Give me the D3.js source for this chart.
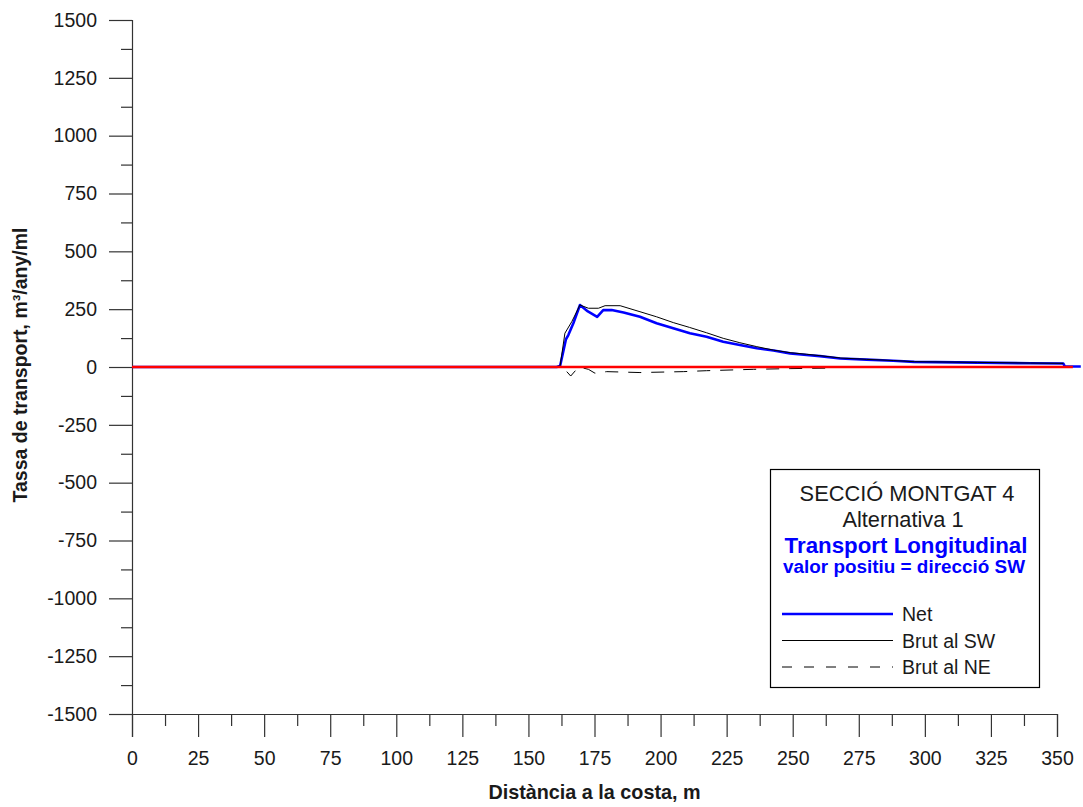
<!DOCTYPE html>
<html>
<head>
<meta charset="utf-8">
<script src="https://cdn.jsdelivr.net/npm/d3@7"></script>
<style>
  body { margin: 0; background: #fff; }
  svg text { font-family: "Liberation Sans", Arial, Helvetica, sans-serif; }
</style>
</head>
<body>
<svg id="chart" width="1083" height="807"></svg>
<script>
// Distance from the coast (m) and longitudinal transport rate (m³/any/ml)
const xTickValues = [0, 25, 50, 75, 100, 125, 150, 175, 200, 225, 250, 275, 300, 325, 350];
const yTickValues = [-1500, -1250, -1000, -750, -500, -250, 0, 250, 500, 750, 1000, 1250, 1500];

// Net transport
const netDistance = [0, 160.7, 162, 164.2, 165.1, 167, 169.5, 172.5, 176, 178.3, 181.5, 186, 192.2, 198.5, 204.8, 211.1, 217.4, 223.7, 230, 236.4, 242.7, 249, 255.3, 260.3, 268, 278, 288, 296, 320, 340, 352.4, 353, 359];
const netValue    = [0, 0, 5, 120, 138, 189, 268, 240, 217, 246, 246, 236, 217, 189, 167, 146, 131, 109, 95, 81, 71, 59, 52, 47, 37, 32, 27, 22, 19, 16, 15, 2, 2];

// Gross transport towards SW
const swDistance = [0, 160.7, 162, 163.8, 166.4, 169.5, 172.7, 176.5, 179, 184.7, 192.2, 198.5, 204.8, 211, 217.4, 223.7, 230, 236.4, 242.7, 249, 255.3, 260.3, 268, 278, 288, 296, 320, 340, 352.4];
const swValue    = [0, 0, 5, 146, 196, 268, 254, 254, 265, 265, 239, 217, 192, 171, 148, 124, 105, 88, 73, 62, 55, 49, 39, 33, 28, 23, 20, 17, 16];

// Gross transport towards NE
const neDistance = [164.5, 166, 169, 172.7, 175.2, 179.6, 192.2, 208.6, 217.4, 235.1, 249, 263];
const neValue    = [-20, -39, 0, -10, -27, -20, -24, -20, -16, -10, -7, -5];

// Zero reference line
const zeroDistance = [0, 356];
const zeroValue    = [0, 0];

const legendItems = [
  { label: "Net",        color: "#0000ff", width: 2.6, dash: null },
  { label: "Brut al SW", color: "#000000", width: 1,   dash: null },
  { label: "Brut al NE", color: "#000000", width: 1,   dash: "10,12" }
];

const svg = d3.select("#chart");
const axisColor = "#333";
const textColor = "#1a1a1a";
const fontStack = '"Liberation Sans", Arial, sans-serif';

const x = d3.scaleLinear().domain([0, 350]).range([132, 1057]);
const y = d3.scaleLinear().domain([-1500, 1500]).range([714, 20]);

const xMinor = d3.pairs(xTickValues).map(([a, b]) => (a + b) / 2);
const yMinor = d3.pairs(yTickValues).map(([a, b]) => (a + b) / 2);

const fmt = d => (d < 0 ? "-" + Math.abs(d) : String(d));

// Y axis: labelled major ticks, short minor ticks in between
const gY = svg.append("g").attr("transform", `translate(${x(0)},0)`);
gY.append("g").attr("class", "major")
  .call(d3.axisLeft(y).tickValues(yTickValues).tickSize(23).tickPadding(12).tickFormat(fmt));
gY.append("g").attr("class", "minor")
  .call(d3.axisLeft(y).tickValues(yMinor).tickSize(11).tickFormat(""))
  .select(".domain").remove();

// X axis
const gX = svg.append("g").attr("transform", `translate(0,${y(-1500)})`);
gX.append("g").attr("class", "major")
  .call(d3.axisBottom(x).tickValues(xTickValues).tickSize(23).tickPadding(14).tickFormat(d3.format("d")));
gX.append("g").attr("class", "minor")
  .call(d3.axisBottom(x).tickValues(xMinor).tickSize(12).tickFormat(""))
  .select(".domain").remove();

svg.selectAll(".domain").attr("stroke", axisColor).attr("stroke-width", 1.2);
svg.selectAll(".tick line").attr("stroke", axisColor).attr("stroke-width", 1.2);
svg.selectAll(".major .tick text")
  .attr("fill", textColor)
  .style("font-size", "19.5px")
  .style("font-family", fontStack);

// Axis titles
svg.append("text")
  .attr("transform", `translate(27,${y(0) - 2}) rotate(-90)`)
  .attr("text-anchor", "middle")
  .attr("fill", textColor)
  .style("font-size", "19.5px").style("font-weight", "bold")
  .text("Tassa de transport, m³/any/ml");

svg.append("text")
  .attr("x", (x(0) + x(350)) / 2)
  .attr("y", 799)
  .attr("text-anchor", "middle")
  .attr("fill", textColor)
  .style("font-size", "19.8px").style("font-weight", "bold")
  .text("Distància a la costa, m");

// Series
const lineGen = d3.line().x(d => x(d[0])).y(d => y(d[1]));

svg.append("path")
  .datum(d3.zip(netDistance, netValue))
  .attr("d", lineGen)
  .attr("fill", "none").attr("stroke", "#0000ff").attr("stroke-width", 2.6)
  .attr("stroke-linejoin", "round");

svg.append("path")
  .datum(d3.zip(swDistance, swValue))
  .attr("d", lineGen)
  .attr("fill", "none").attr("stroke", "#000").attr("stroke-width", 1);

svg.append("path")
  .datum(d3.zip(neDistance, neValue))
  .attr("d", lineGen)
  .attr("fill", "none").attr("stroke", "#000").attr("stroke-width", 1)
  .attr("stroke-dasharray", "13,10");

svg.append("path")
  .datum(d3.zip(zeroDistance, zeroValue))
  .attr("d", lineGen)
  .attr("fill", "none").attr("stroke", "#ff0000").attr("stroke-width", 2.7);

// Legend box
const lg = svg.append("g");
lg.append("rect")
  .attr("x", 770.5).attr("y", 469.5).attr("width", 269).attr("height", 218)
  .attr("fill", "#fff").attr("stroke", "#000").attr("stroke-width", 1.2);

const cx = 907;
lg.append("text").attr("x", cx).attr("y", 501).attr("text-anchor", "middle")
  .attr("fill", textColor).style("font-size", "21.8px").text("SECCIÓ MONTGAT 4");
lg.append("text").attr("x", cx - 4).attr("y", 527).attr("text-anchor", "middle")
  .attr("fill", textColor).style("font-size", "21.8px").text("Alternativa 1");
lg.append("text").attr("x", cx - 1).attr("y", 553).attr("text-anchor", "middle")
  .attr("fill", "#0000ff").style("font-size", "22.3px").style("font-weight", "bold")
  .text("Transport Longitudinal");
lg.append("text").attr("x", cx - 3).attr("y", 573).attr("text-anchor", "middle")
  .attr("fill", "#0000ff").style("font-size", "18.9px").style("font-weight", "bold")
  .text("valor positiu = direcció SW");

const rowY = d3.scalePoint().domain(legendItems.map(d => d.label)).range([614, 667]);
legendItems.forEach(item => {
  const yy = rowY(item.label);
  lg.append("line")
    .attr("x1", 782).attr("x2", 893).attr("y1", yy).attr("y2", yy)
    .attr("stroke", item.color).attr("stroke-width", item.width)
    .attr("stroke-dasharray", item.dash);
  lg.append("text")
    .attr("x", 902).attr("y", yy).attr("dy", "0.36em")
    .attr("fill", textColor).style("font-size", "19.5px")
    .text(item.label);
});
</script>
</body>
</html>
